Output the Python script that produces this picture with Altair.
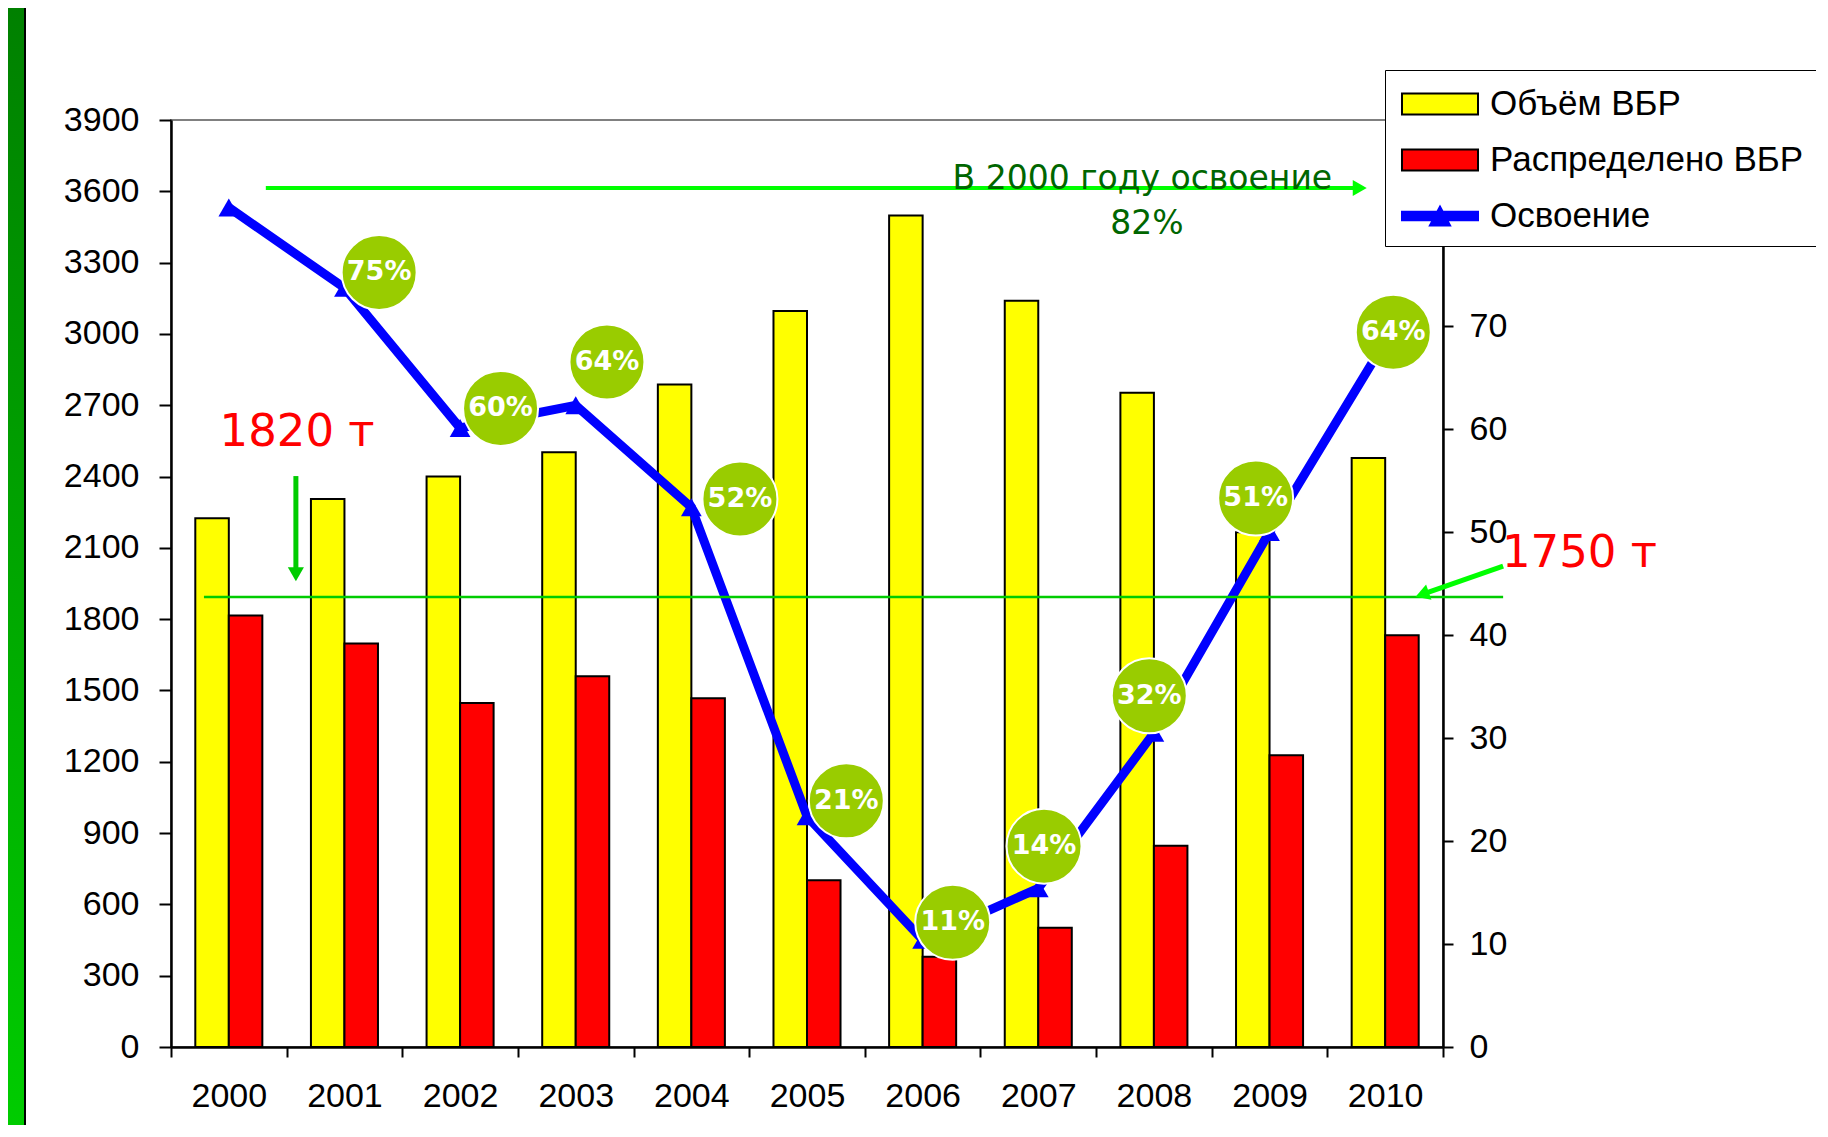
import altair as alt
import pandas as pd

# ---------------- data ----------------
years = [2000, 2001, 2002, 2003, 2004, 2005, 2006, 2007, 2008, 2009, 2010]
volume = [2225, 2305, 2400, 2502, 2787, 3096, 3498, 3140, 2753, 2166, 2478]        # Объём ВБР
distributed = [1815, 1698, 1447, 1560, 1467, 702, 380, 502, 847, 1227, 1732]     # Распределено ВБР
mastery = [81.5, 73.7, 60.1, 62.3, 52.4, 22.4, 10.4, 15.4, 30.5, 50.0, 68.5]      # Освоение, %

series_names = ["Объём ВБР", "Распределено ВБР", "Освоение"]

# bubble labels (anchor position in year / percent units)
bubble_labels = ["75%", "60%", "64%", "52%", "21%", "11%", "14%", "32%", "51%", "64%"]
bubble_x = [2001.30, 2002.35, 2003.27, 2004.42, 2005.34, 2006.26, 2007.05, 2007.96, 2008.88, 2010.07]
bubble_y = [75.2, 62.0, 66.5, 53.2, 23.9, 12.1, 19.5, 34.1, 53.3, 69.4]

# annotations (year units / left-axis units)
threshold_value = 1893
threshold_x = [1999.785, 2011.02]
note_texts = ["1820 т", "1750 т"]
note_x = [2000.59, 2011.68]
note_y = [2587, 2078]
top_text = ["В 2000 году освоение", "82%"]
top_text_x = [2007.90, 2007.94]
top_text_y = [3652, 3464]

left_ticks = list(range(0, 3901, 300))
right_ticks = list(range(0, 91, 10))

# ---------------- frames ----------------
bars_df = pd.DataFrame({
    "year": years * 2,
    "series": [series_names[0]] * len(years) + [series_names[1]] * len(years),
    "value": volume + distributed,
})
line_df = pd.DataFrame({"year": years, "pct": mastery})
bub_df = pd.DataFrame({"bx": bubble_x, "by": bubble_y, "label": bubble_labels})

FONT = "Liberation Sans"

# ---------------- layer A: bars + line ----------------
x_band = alt.X("year:O", scale=alt.Scale(paddingInner=0, paddingOuter=0),
               axis=alt.Axis(title=None, labelAngle=0, tickBand="extent", tickSize=10,
                             labelPadding=22, labelFontSize=34, labelFont=FONT))

bars = alt.Chart(bars_df).mark_bar(stroke="black", strokeWidth=2).encode(
    x=x_band,
    xOffset=alt.XOffset("series:N", sort=series_names[:2],
                        scale=alt.Scale(paddingInner=0, paddingOuter=0.725)),
    y=alt.Y("value:Q", scale=alt.Scale(domain=[0, 3900], nice=False),
            axis=alt.Axis(title=None, values=left_ticks, format="d", tickSize=12, labelPadding=20,
                          orient="left", labelFontSize=34, labelFont=FONT)),
    color=alt.Color("series:N", scale=alt.Scale(domain=series_names[:2], range=["#FFFF00", "#FF0000"]),
                    legend=None),
)

y_pct = alt.Y("pct:Q", scale=alt.Scale(domain=[0, 90], nice=False),
              axis=alt.Axis(title=None, values=right_ticks, format="d", orient="right", tickSize=10,
                            labelPadding=16, labelFontSize=34, labelFont=FONT))
line = alt.Chart(line_df).mark_line(color="#0000FF", strokeWidth=9).encode(x="year:O", y=y_pct)
line_pts = alt.Chart(line_df).mark_point(shape="triangle-up", filled=True, color="#0000FF",
                                         size=430, opacity=1).encode(x="year:O", y=y_pct)

layer_a = alt.layer(bars, alt.layer(line, line_pts)).resolve_scale(y="independent")

# ---------------- layer C: annotations ----------------
xq = alt.Scale(domain=[1999.5, 2010.5], nice=False, zero=False)
yl = alt.Scale(domain=[0, 3900], nice=False)

thr_df = pd.DataFrame({"x": [threshold_x[0]], "x2": [threshold_x[1]], "y": [threshold_value]})
threshold = alt.Chart(thr_df).mark_rule(color="#00CC00", strokeWidth=2.5).encode(
    x=alt.X("x:Q", scale=xq, axis=None), x2="x2:Q", y=alt.Y("y:Q", scale=yl, axis=None))

notes_df = pd.DataFrame({"x": note_x, "y": note_y, "t": note_texts})
notes = alt.Chart(notes_df).mark_text(font="DejaVu Sans", fontSize=45, color="#FF0000",
                                      align="center", baseline="middle").encode(
    x=alt.X("x:Q", scale=xq, axis=None), y=alt.Y("y:Q", scale=yl, axis=None), text="t:N")

top_df = pd.DataFrame({"x": top_text_x, "y": top_text_y, "t": top_text})
top_txt = alt.Chart(top_df).mark_text(font="DejaVu Sans", fontSize=33, color="#006600",
                                      align="center", baseline="middle").encode(
    x=alt.X("x:Q", scale=xq, axis=None), y=alt.Y("y:Q", scale=yl, axis=None), text="t:N")

# arrows: shafts
shaft_df = pd.DataFrame({
    "x": [2000.58, 2011.02, 2000.32],
    "y": [2402, 2023, 3614],
    "x2": [2000.58, 2010.32, 2009.78],
    "y2": [2000, 1904, 3614],
    "w": [5, 5, 4],
    "c": ["#00CC00", "#00FF00", "#00FF00"],
})
shafts = alt.Chart(shaft_df).mark_rule().encode(
    x=alt.X("x:Q", scale=xq, axis=None), x2="x2:Q",
    y=alt.Y("y:Q", scale=yl, axis=None), y2="y2:Q",
    strokeWidth=alt.StrokeWidth("w:Q", scale=None, legend=None),
    color=alt.Color("c:N", scale=None, legend=None))

head_df = pd.DataFrame({
    "x": [2000.58, 2010.32, 2009.78],
    "y": [1989, 1904, 3614],
    "ang": [180, 250.6, 90],
    "c": ["#00CC00", "#00FF00", "#00FF00"],
})
heads = alt.Chart(head_df).mark_point(shape="triangle-up", filled=True, size=260, opacity=1).encode(
    x=alt.X("x:Q", scale=xq, axis=None), y=alt.Y("y:Q", scale=yl, axis=None),
    angle=alt.Angle("ang:Q", scale=None),
    color=alt.Color("c:N", scale=None, legend=None))

# decorative left frame strip
frame_df = pd.DataFrame({"a": [0]})
strip = alt.Chart(frame_df).mark_rect(
    fill=alt.Gradient(gradient="linear", x1=0, x2=0, y1=0, y2=1,
                      stops=[alt.GradientStop(color="#008000", offset=0),
                             alt.GradientStop(color="#00CC00", offset=1)])
).encode(x=alt.value(-163), x2=alt.value(-147), y=alt.value(-112), y2=alt.value(1005))
strip_line = alt.Chart(frame_df).mark_rule(color="black", strokeWidth=2).encode(
    x=alt.value(-146), y=alt.value(-112), y2=alt.value(1005))

# legend (library legend, driven by a hidden layer)
rect_path = "M-1.81,-0.5L1.81,-0.5L1.81,0.5L-1.81,0.5Z"
line_path = "M-1.81,-0.2L1.81,-0.2L1.81,0.2L-1.81,0.2Z M-0.48,0.45L0,-0.45L0.48,0.45Z"
leg = alt.Legend(title=None, orient="none", legendX=1214, legendY=-50,
                 fillColor="white", strokeColor="black", padding=12,
                 symbolSize=1764, symbolOffset=21, labelOffset=28, rowPadding=16,
                 labelFont=FONT, labelFontSize=35, labelLimit=700, labelColor="black",
                 symbolStrokeWidth=2, symbolOpacity=1)
leg_df = pd.DataFrame({"s": series_names})
legend_layer = alt.Chart(leg_df).mark_point(filled=True, opacity=0).encode(
    fill=alt.Fill("s:N", scale=alt.Scale(domain=series_names, range=["#FFFF00", "#FF0000", "#0000FF"]), legend=leg),
    stroke=alt.Stroke("s:N", scale=alt.Scale(domain=series_names, range=["#000000", "#000000", "#0000FF"]), legend=leg),
    shape=alt.Shape("s:N", scale=alt.Scale(domain=series_names, range=[rect_path, rect_path, line_path]), legend=leg),
)

layer_c = alt.layer(strip, strip_line, threshold, shafts, heads, top_txt, notes, legend_layer)

# ---------------- layer B: bubbles ----------------
bx = alt.X("bx:Q", scale=xq, axis=None)
by = alt.Y("by:Q", scale=alt.Scale(domain=[0, 90], nice=False), axis=None)
bubbles = alt.Chart(bub_df).mark_point(shape="circle", filled=True, size=5625, fill="#99CC00",
                                        stroke="white", strokeWidth=2, opacity=1).encode(x=bx, y=by)
bubble_txt = alt.Chart(bub_df).mark_text(font="DejaVu Sans", fontWeight="bold", fontSize=27,
                                         color="white", align="center", baseline="middle").encode(
    x=bx, y=by, text="label:N")
layer_b = alt.layer(bubbles, bubble_txt)

chart = alt.layer(layer_a, layer_c, layer_b).resolve_scale(x="independent", y="independent").properties(
    width=1272, height=927,
    padding={"left": 163, "top": 112, "right": 373, "bottom": 78},
    autosize=alt.AutoSizeParams(type="none"),
    background="white",
).configure_view(
    fill="#C0C0C0", stroke="#808080", strokeWidth=2
).configure_axis(
    grid=False, domainColor="black", domainWidth=2.5, tickColor="black", tickWidth=2,
    labelColor="black", labelFont=FONT
)

chart.save("out.html", embed_options={"renderer": "svg", "actions": False})
